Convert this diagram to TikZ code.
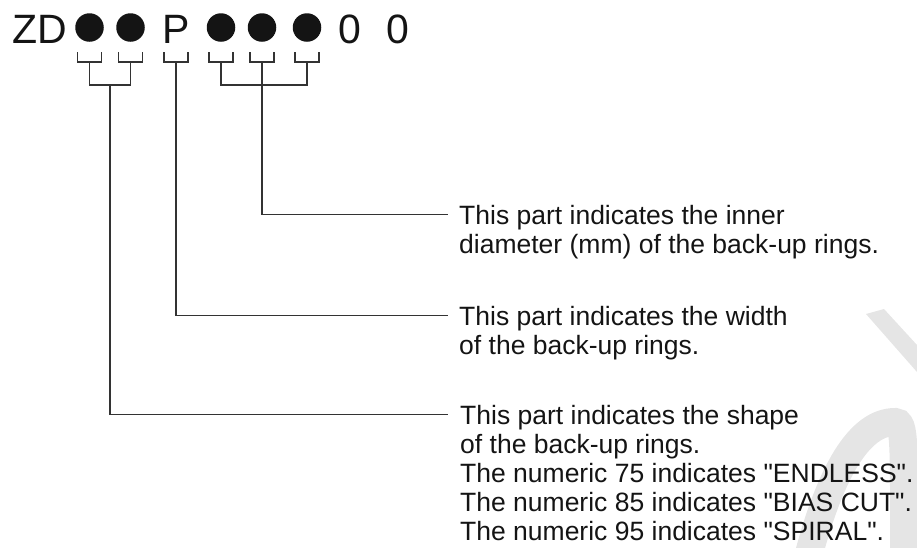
\documentclass[tikz,border=0pt]{standalone}
\usepackage{fontspec}
\setmainfont{Liberation Sans}
\usetikzlibrary{calc}

\begin{document}
\begin{tikzpicture}[
    x=1pt, y=-1pt,
    code/.style={inner sep=0pt, anchor=base west, text=black!92,
        font=\fontsize{41}{41}\selectfont},
    dot/.style={circle, fill=black!92, inner sep=0pt, minimum size=28.5pt},
    note/.style={inner sep=0pt, anchor=north west, align=left, text=black!92,
        font=\fontsize{26.5}{29}\selectfont},
    lead/.style={draw=black!80, line width=1.4pt},
    wmark/.style={fill=black!10, draw=none}
]
\useasboundingbox (0,0) rectangle (917,547);

% Watermark
\fill[wmark] (866,314) -- (884,309) -- (917,345) -- (917,372) -- cycle;
\draw[black!10, line width=28pt] (806,565) .. controls (830,470) and (860,422) .. (895,422)
    .. controls (905,422) and (904,440) .. (904,565);

% Code
\node[code] (zd) at (12,43) {ZD};
\node[dot] (c1) at (89.5,27.5) {};
\node[dot] (c2) at (130.5,27.5) {};
\node[code] (pw) at (162,43) {P};
\node[dot] (c3) at (221,27.5) {};
\node[dot] (c4) at (262,27.5) {};
\node[dot] (c5) at (307,27.5) {};
\node[code] (z1) at (338,43) {0};
\node[code] (z2) at (386.5,43) {0};

% Notes
\node[note] (inner) at (459,205) {This part indicates the inner\\diameter (mm) of the back-up rings.};
\node[note] (width) at (459,306) {This part indicates the width\\of the back-up rings.};
\node[note] (shape) at (460,405) {This part indicates the shape\\of the back-up rings.\\
    The numeric 75 indicates \textquotedbl ENDLESS\textquotedbl.\\
    The numeric 85 indicates \textquotedbl BIAS CUT\textquotedbl.\\
    The numeric 95 indicates \textquotedbl SPIRAL\textquotedbl.};

\coordinate (tickrow) at (0,62);
\coordinate (joinrow) at (0,85);

% Ticks under each place
\foreach \n in {c1,c2,pw,c3,c4,c5}
    \draw[lead] (\n |- tickrow) ++(-12,-10) -- ++(0,10) -- ++(24,0) -- ++(0,-10);

% Groups
\draw[lead] (c1 |- tickrow) -- (c1 |- joinrow) -- (c2 |- joinrow) -- (c2 |- tickrow);
\draw[lead] (c3 |- tickrow) -- (c3 |- joinrow) -- (c5 |- joinrow) -- (c5 |- tickrow);
\coordinate (shapejoin) at ($(c1 |- joinrow)!0.5!(c2 |- joinrow)$);

% Leaders
\draw[lead] (c4 |- tickrow) |- ($(inner.north west)+(-11,9.5)$);
\draw[lead] (pw |- tickrow) |- ($(width.north west)+(-11,9.5)$);
\draw[lead] (shapejoin) |- ($(shape.north west)+(-12,9.5)$);

\end{tikzpicture}
\end{document}
